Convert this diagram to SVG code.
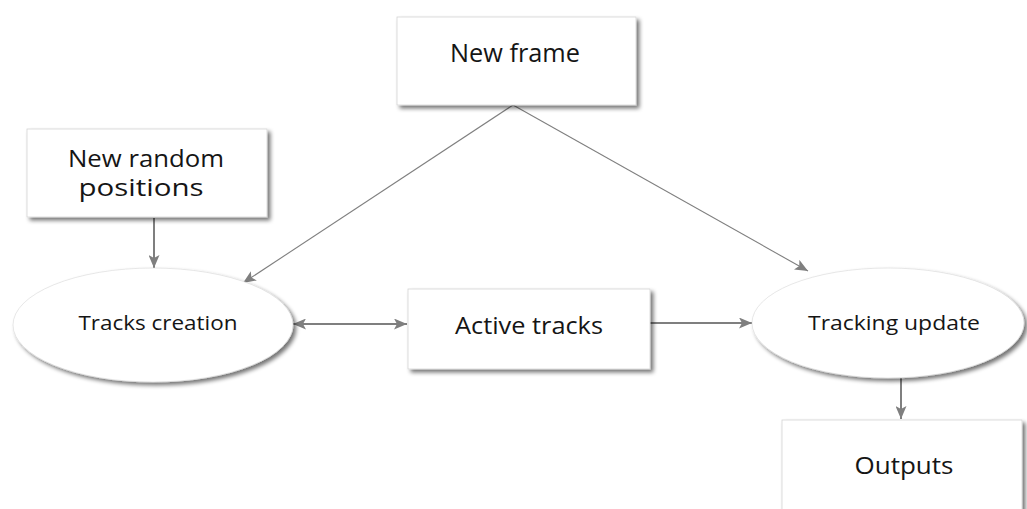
<svg xmlns="http://www.w3.org/2000/svg" width="1027" height="509" viewBox="0 0 1027 509">
  <style>
    .box { fill: #ffffff; stroke: #d4d4d4; stroke-width: 0.8; filter: url(#shadow); }
    .oval { fill: #ffffff; stroke: #d8d8d8; stroke-width: 0.6; filter: url(#shadow); }
    .label { font-family: "Open Sans", "Liberation Sans", sans-serif; fill: #151515; text-anchor: middle; }
    .edge { fill: none; stroke: #7f7f7f; }
    .thin { stroke-width: 1.1; }
    .thick { stroke-width: 2; }
  </style>
  <defs>
    <filter id="shadow" x="-10%" y="-10%" width="125%" height="130%">
      <feGaussianBlur in="SourceAlpha" stdDeviation="2"/>
      <feOffset dx="3" dy="3" result="off"/>
      <feComponentTransfer><feFuncA type="linear" slope="0.55"/></feComponentTransfer>
      <feMerge><feMergeNode/><feMergeNode in="SourceGraphic"/></feMerge>
    </filter>
    <marker id="arrow" viewBox="0 0 13 11" refX="13" refY="5.5" markerWidth="13" markerHeight="11" markerUnits="userSpaceOnUse" orient="auto-start-reverse">
      <path d="M0,0 L13,5.5 L0,11 L3,5.5 Z" fill="#7f7f7f"/>
    </marker>
  </defs>

  <rect width="1027" height="509" fill="#ffffff"/>

  <!-- connectors -->
  <g id="connectors">
    <line class="edge thin" x1="513" y1="105" x2="243" y2="283" marker-end="url(#arrow)"/>
    <line class="edge thin" x1="513" y1="105" x2="808" y2="271" marker-end="url(#arrow)"/>
    <line class="edge thick" x1="154" y1="218" x2="154" y2="268" marker-end="url(#arrow)"/>
    <line class="edge thick" x1="293" y1="324" x2="407" y2="324" marker-start="url(#arrow)" marker-end="url(#arrow)"/>
    <line class="edge thick" x1="650" y1="323" x2="752" y2="323" marker-end="url(#arrow)"/>
    <line class="edge thick" x1="901" y1="378" x2="901" y2="419" marker-end="url(#arrow)"/>
  </g>

  <g id="new-frame">
    <rect class="box" x="397" y="17" width="239" height="88"/>
    <text class="label" x="515" y="62" font-size="25" textLength="130" lengthAdjust="spacingAndGlyphs">New frame</text>
  </g>

  <g id="new-random-positions">
    <rect class="box" x="27" y="129" width="240" height="88"/>
    <text class="label" x="146" y="167" font-size="23" textLength="156" lengthAdjust="spacingAndGlyphs">New random</text>
    <text class="label" x="141" y="196" font-size="23" textLength="125" lengthAdjust="spacingAndGlyphs">positions</text>
  </g>

  <g id="tracks-creation">
    <ellipse class="oval" cx="153" cy="325" rx="140" ry="57"/>
    <text class="label" x="158" y="330" font-size="20" textLength="159" lengthAdjust="spacingAndGlyphs">Tracks creation</text>
  </g>

  <g id="active-tracks">
    <rect class="box" x="408" y="289" width="242" height="80"/>
    <text class="label" x="529" y="334" font-size="24" textLength="148" lengthAdjust="spacingAndGlyphs">Active tracks</text>
  </g>

  <g id="tracking-update">
    <ellipse class="oval" cx="888" cy="323" rx="136" ry="55"/>
    <text class="label" x="894" y="330" font-size="20" textLength="172" lengthAdjust="spacingAndGlyphs">Tracking update</text>
  </g>

  <g id="outputs">
    <rect class="box" x="782" y="420" width="240" height="100"/>
    <text class="label" x="904" y="474" font-size="24" textLength="99" lengthAdjust="spacingAndGlyphs">Outputs</text>
  </g>
</svg>
